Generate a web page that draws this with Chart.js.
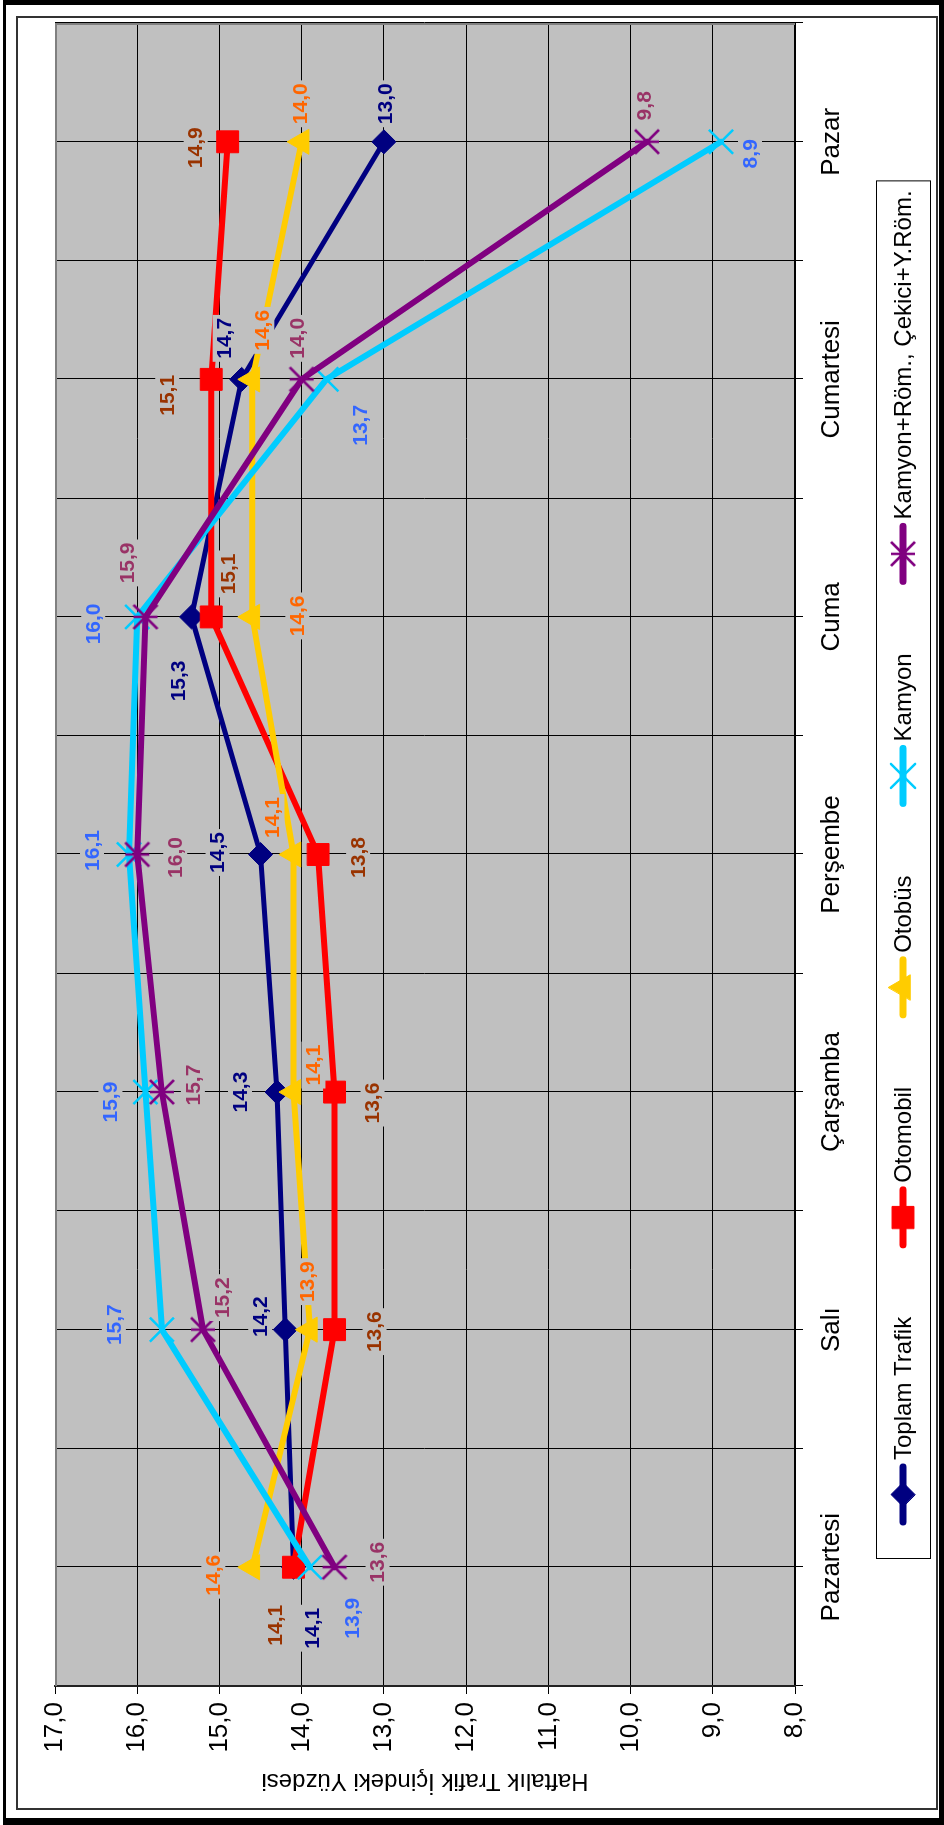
<!DOCTYPE html>
<html><head><meta charset="utf-8">
<script src="https://cdn.jsdelivr.net/npm/chart.js"></script>
<style>
html,body{margin:0;padding:0;background:#fff;width:944px;height:1825px;overflow:hidden;}
#wrap{position:relative;width:944px;height:1825px;}
#c{position:absolute;left:0;top:0;transform-origin:0 0;transform:translate(0px,1825px) rotate(-90deg);}
.frame1{position:absolute;left:3px;top:0;width:941px;height:1825px;box-sizing:border-box;border-style:solid;border-color:#000;border-width:5px 5px 7px 3px;pointer-events:none;}
.frame2{position:absolute;left:16px;top:16px;width:922px;height:1794px;box-sizing:border-box;border:2px solid #333;pointer-events:none;}
</style></head>
<body><div id="wrap"><canvas id="c" width="1825" height="944"></canvas><div class="frame1"></div><div class="frame2"></div></div>
<script>
// ---- data ----
const categories = ['Pazartesi', 'Salı', 'Çarşamba', 'Perşembe', 'Cuma', 'Cumartesi', 'Pazar'];
const seriesNames = ['Toplam Trafik', 'Otomobil', 'Otobüs', 'Kamyon', 'Kamyon+Röm., Çekici+Y.Röm.'];
const toplamTrafik = [14.1, 14.2, 14.3, 14.5, 15.34, 14.73, 13.0];
const otomobil     = [14.1, 13.6, 13.6, 13.8, 15.1, 15.1, 14.9];
const otobus       = [14.6, 13.9, 14.1, 14.1, 14.6, 14.6, 14.0];
const kamyon       = [13.9, 15.7, 15.9, 16.1, 16.0, 13.7, 8.9];
const kamyonRomork = [13.6, 15.2, 15.7, 16.0, 15.9, 14.0, 9.8];
const valueTickLabels = ['8,0', '9,0', '10,0', '11,0', '12,0', '13,0', '14,0', '15,0', '16,0', '17,0'];
const axisTitle = 'Haftalık Trafik İçindeki Yüzdesi';

// ---- label placement (canvas px offsets from each point) ----
const labelOffsets = [
  [[-61,19],[13,-25],[0,-37],[2,-43],[-64,-13],[41,-17],[38,1]],
  [[-58,-18],[-2,40],[-11,38],[-3,40],[43,17],[-16,-44],[-6,-32]],
  [[-8,-39],[48,-3],[27,20],[37,-21],[1,45],[49,10],[38,-1]],
  [[-51,42],[5,-48],[-10,-35],[4,-37],[-7,-44],[-46,34],[-12,29]],
  [[5,43],[32,19],[7,31],[-3,38],[54,-18],[41,-4],[36,-3]]
];
const labelColors = ['#000080', '#993300', '#FF6600', '#3366FF', '#993366'];
const FONT = '"Liberation Sans", Arial, Helvetica, sans-serif';
const fmt = v => v.toFixed(1).replace('.', ',');

// star marker (x with a bar), like the spreadsheet "star"
const star = document.createElement('canvas');
star.width = 30; star.height = 30;
(function(){
  const g = star.getContext('2d');
  g.strokeStyle = '#800080'; g.lineWidth = 2.5; g.lineCap = 'butt';
  g.beginPath();
  g.moveTo(3,3); g.lineTo(27,27);
  g.moveTo(27,3); g.lineTo(3,27);
  g.moveTo(15,3); g.lineTo(15,27);
  g.stroke();
})();

function ds(label, data, color, width, style, radius, bw, order){
  return {
    label, data, borderColor: color, backgroundColor: color, borderWidth: width,
    pointStyle: style, pointRadius: radius, pointHoverRadius: radius,
    pointBackgroundColor: color, pointBorderColor: color, pointBorderWidth: bw,
    tension: 0, fill: false, order, borderJoinStyle: 'round', borderCapStyle: 'round'
  };
}

const datasets = [
  ds(seriesNames[0], toplamTrafik, '#000080', 5, 'rectRot', 12, 1, 5),
  ds(seriesNames[1], otomobil, '#FF0000', 6, 'rect', 15.5, 1, 4),
  ds(seriesNames[2], otobus, '#FFCC00', 6, 'triangle', 14.5, 1, 3),
  ds(seriesNames[3], kamyon, '#00CCFF', 6, 'crossRot', 17, 2.5, 2),
  ds(seriesNames[4], kamyonRomork, '#800080', 6, star, 12, 2.5, 1)
];

function drawMarker(ctx, d, x, y){
  const style = d.pointStyle, r = d.pointRadius;
  ctx.save();
  ctx.fillStyle = d.pointBackgroundColor; ctx.strokeStyle = d.pointBorderColor; ctx.lineWidth = d.pointBorderWidth;
  if (style instanceof HTMLCanvasElement) { ctx.drawImage(style, x - style.width/2, y - style.height/2); ctx.restore(); return; }
  ctx.beginPath();
  if (style === 'rectRot') { ctx.moveTo(x-r,y); ctx.lineTo(x,y-r); ctx.lineTo(x+r,y); ctx.lineTo(x,y+r); ctx.closePath(); ctx.fill(); ctx.stroke(); }
  else if (style === 'rect') { const s = r*Math.SQRT1_2; ctx.rect(x-s,y-s,2*s,2*s); ctx.fill(); ctx.stroke(); }
  else if (style === 'triangle') {
    let a = 0; ctx.moveTo(x + Math.sin(a)*r, y - Math.cos(a)*r);
    a += 2*Math.PI/3; ctx.lineTo(x + Math.sin(a)*r, y - Math.cos(a)*r);
    a += 2*Math.PI/3; ctx.lineTo(x + Math.sin(a)*r, y - Math.cos(a)*r);
    ctx.closePath(); ctx.fill(); ctx.stroke();
  } else if (style === 'crossRot') { const s = r*Math.SQRT1_2; ctx.moveTo(x-s,y-s); ctx.lineTo(x+s,y+s); ctx.moveTo(x+s,y-s); ctx.lineTo(x-s,y+s); ctx.stroke(); }
  ctx.restore();
}

const plotBg = {
  id: 'plotBg',
  beforeDraw(chart){
    const {ctx, chartArea: a} = chart;
    ctx.save();
    ctx.fillStyle = '#fff'; ctx.fillRect(0, 0, chart.width, chart.height);
    ctx.fillStyle = '#C0C0C0'; ctx.fillRect(a.left, a.top, a.right - a.left, a.bottom - a.top);
    ctx.restore();
  },
  beforeDatasetsDraw(chart){
    const {ctx, chartArea: a} = chart;
    const xs = chart.scales.x;
    ctx.save();
    ctx.strokeStyle = '#000'; ctx.lineWidth = 1;
    ctx.beginPath();
    for (let i = 0; i < categories.length; i++) {
      const px = Math.round(xs.getPixelForValue(i)) + 0.5;
      ctx.moveTo(px, a.top); ctx.lineTo(px, a.bottom + 8);
    }
    ctx.stroke();
    ctx.strokeStyle = '#808080'; ctx.lineWidth = 2;
    ctx.beginPath();
    ctx.moveTo(a.left, a.top + 1); ctx.lineTo(a.right - 1, a.top + 1); ctx.lineTo(a.right - 1, a.bottom);
    ctx.stroke();
    ctx.restore();
  },
  afterDatasetsDraw(chart){
    const ctx = chart.ctx;
    ctx.save();
    ctx.font = 'bold 21px ' + FONT;
    ctx.textAlign = 'center'; ctx.textBaseline = 'middle';
    chart.data.datasets.forEach((d, i) => {
      const meta = chart.getDatasetMeta(i);
      meta.data.forEach((pt, j) => {
        const txt = fmt(d.data[j]);
        const off = labelOffsets[i][j];
        const cx = pt.x + off[0], cy = pt.y + off[1];
        const w = ctx.measureText(txt).width;
        ctx.fillStyle = '#C0C0C0';
        ctx.fillRect(cx - w/2 - 3, cy - 12, w + 6, 24);
        ctx.fillStyle = labelColors[i];
        ctx.fillText(txt, cx, cy + 1);
      });
    });
    ctx.restore();
  },
  afterDraw(chart){
    // legend box
    const ctx = chart.ctx;
    const vTop = 876, vBot = 930, vMid = 903;
    ctx.save();
    ctx.font = '24px ' + FONT;
    ctx.textBaseline = 'middle'; ctx.textAlign = 'left';
    let u = 300;
    const start = u;
    chart.data.datasets.forEach((d) => {
      ctx.strokeStyle = d.borderColor; ctx.lineWidth = 7; ctx.lineCap = 'round';
      ctx.beginPath(); ctx.moveTo(u + 3, vMid); ctx.lineTo(u + 58, vMid); ctx.stroke();
      drawMarker(ctx, d, u + 30.5, vMid);
      ctx.fillStyle = '#000';
      ctx.fillText(d.label, u + 65, vMid + 1);
      u += 65 + ctx.measureText(d.label).width + 69;
    });
    const end = u - 69 + 9;
    ctx.strokeStyle = '#000'; ctx.lineWidth = 1;
    ctx.strokeRect(start - 34 + 0.5, vTop + 0.5, end - (start - 34), vBot - vTop);
    ctx.restore();
  }
};

new Chart(document.getElementById('c'), {
  type: 'line',
  data: { labels: categories, datasets },
  options: {
    responsive: false, animation: false, devicePixelRatio: 1,
    layout: { padding: { left: 0, right: 23, top: 55, bottom: 0 } },
    plugins: { legend: { display: false }, tooltip: { enabled: false } },
    scales: {
      x: {
        type: 'category', offset: true,
        grid: { offset: true, color: '#000', lineWidth: 1, tickLength: 8, tickColor: '#000', drawTicks: true },
        border: { display: true, color: '#000', width: 2 },
        ticks: { color: '#000', font: { family: FONT, size: 26 }, padding: 13, maxRotation: 0, autoSkip: false },
        afterFit(s){ s.height = 149; }
      },
      y: {
        type: 'linear', min: 8, max: 17,
        ticks: { stepSize: 1, color: '#000', font: { family: FONT, size: 26 }, padding: 8,
          callback: (v) => valueTickLabels[Math.round(v) - 8] },
        grid: { color: '#000', lineWidth: 1, tickLength: 8, tickColor: '#000' },
        border: { display: true, color: '#222', width: 2 },
        title: { display: true, text: axisTitle, color: '#000', font: { family: FONT, size: 24 }, padding: { top: 30, bottom: 0 } },
        afterFit(s){ s.width = 139; }
      }
    }
  },
  plugins: [plotBg]
});
</script>
</body></html>
